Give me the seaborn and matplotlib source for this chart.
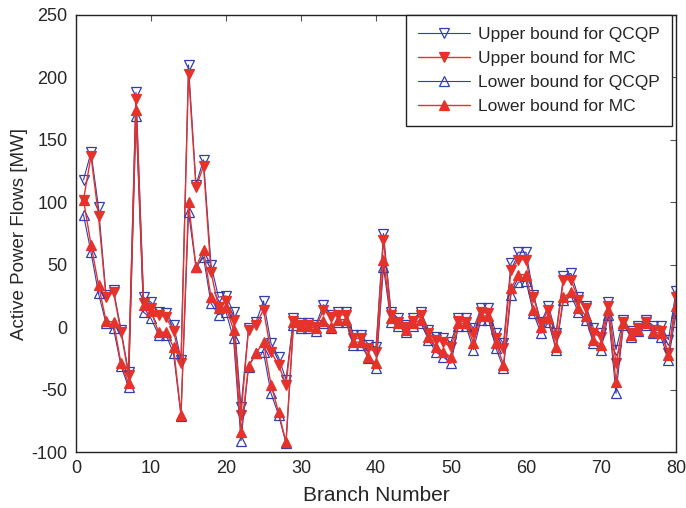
import numpy as np
import pandas as pd
import matplotlib
matplotlib.use("Agg")
import matplotlib.pyplot as plt
import seaborn as sns

branches = list(range(1, 81))
upper_qcqp = [118, 140, 96, 26, 30, -2, -36, 188, 24, 20,
              12, 11, 2, -26, 210, 114, 134, 50, 24, 25,
              12, -64, -1, 4, 21, -13, -24, -42, 7, 3,
              3, 2, 18, 10, 12, 12, -6, -6, -14, -16,
              75, 12, 7, 2, 7, 12, -2, -8, -9, -12,
              7, 7, -1, 15, 15, -5, -13, 51, 60, 60,
              26, 4, 17, -5, 41, 43, 24, 17, -1, -5,
              20, -18, 6, -3, 1, 6, 1, 1, -10, 29]
upper_mc = [102, 137, 89, 24, 28, -4, -38, 183, 19, 15,
            10, 8, -3, -29, 203, 112, 129, 44, 16, 21,
            6, -70, -2, 2, 14, -20, -30, -46, 5, 2,
            2, 0, 14, 8, 10, 10, -9, -9, -17, -20,
            70, 10, 4, 0, 5, 10, -5, -10, -12, -16,
            5, 4, -5, 12, 11, -9, -17, 46, 54, 54,
            24, 3, 14, -7, 38, 38, 22, 15, -5, -8,
            17, -29, 4, -5, -1, 4, -2, -3, -21, 24]
lower_qcqp = [90, 60, 27, 3, -1, -31, -48, 169, 12, 7,
              -6, -6, -21, -71, 92, 48, 56, 19, 10, 12,
              -9, -91, -32, -21, -20, -53, -70, -93, 2, -1,
              -1, -3, 3, -1, 4, 4, -14, -14, -25, -33,
              48, 4, 1, -4, 1, 3, -10, -20, -24, -29,
              1, 1, -18, 6, 6, -17, -33, 26, 36, 37,
              11, -5, 4, -18, 22, 25, 12, 6, -13, -18,
              10, -53, 2, -8, -3, 2, -5, -8, -26, 11]
lower_mc = [102, 66, 34, 5, 4, -29, -45, 174, 18, 13,
            -4, -4, -16, -70, 100, 48, 62, 24, 15, 16,
            -2, -84, -31, -21, -12, -46, -68, -92, 4, 1,
            1, -1, 5, 0, 6, 6, -12, -12, -24, -29,
            54, 7, 3, -2, 3, 6, -8, -16, -20, -24,
            3, 3, -13, 9, 9, -13, -30, 31, 42, 42,
            14, 0, 7, -16, 24, 28, 15, 9, -10, -14,
            14, -44, 3, -6, -2, 3, -4, -5, -22, 17]

series_names = ["Upper bound for QCQP", "Upper bound for MC",
                "Lower bound for QCQP", "Lower bound for MC"]

sns.set_style("white")
plt.rcParams['font.family'] = ['Liberation Sans', 'DejaVu Sans']
plt.rcParams['axes.unicode_minus'] = False

BLUE = "#2f3fae"
RED = "#e5322b"

fig = plt.figure(figsize=(6.86, 5.08), dpi=100)
ax = fig.add_axes([0.1108, 0.1102, 0.8746, 0.8603])

styles = [
    dict(color=BLUE, marker="v", markerfacecolor="none", markeredgecolor=BLUE, lw=0.8),
    dict(color=RED, marker="v", markerfacecolor=RED, markeredgecolor=RED, lw=1.0),
    dict(color=BLUE, marker="^", markerfacecolor="none", markeredgecolor=BLUE, lw=0.8),
    dict(color=RED, marker="^", markerfacecolor=RED, markeredgecolor=RED, lw=1.0),
]
for name, vals, st in zip(series_names, [upper_qcqp, upper_mc, lower_qcqp, lower_mc], styles):
    df = pd.DataFrame({"Branch": branches, "Flow": vals})
    sns.lineplot(data=df, x="Branch", y="Flow", ax=ax, label=name,
                 markersize=6.5, markeredgewidth=0.9, **st)

ax.set_xlim(0, 80)
ax.set_ylim(-100, 250)
ax.set_xticks(range(0, 81, 10))
ax.set_yticks(range(-100, 251, 50))
ax.tick_params(direction="in", length=4, width=0.8, top=True, right=True,
               labelsize=13, color="#555555", pad=6)
for s in ax.spines.values():
    s.set_visible(True)
    s.set_color("#222222")
    s.set_linewidth(1.0)
ax.set_xlabel("Branch Number", fontsize=15, labelpad=6)
ax.set_ylabel("Active Power Flows [MW]", fontsize=13.5)
ax.yaxis.set_label_coords(-0.08, 0.5)

leg = ax.legend(loc="upper right", bbox_to_anchor=(0.9935, 1.0), fontsize=12.5,
                frameon=True, fancybox=False, framealpha=1, edgecolor="#222222",
                borderaxespad=0, handlelength=3.0, handletextpad=0.45,
                labelspacing=0.5, borderpad=0.7)
leg.get_frame().set_linewidth(1.0)

fig.savefig("out.png", dpi=100)
